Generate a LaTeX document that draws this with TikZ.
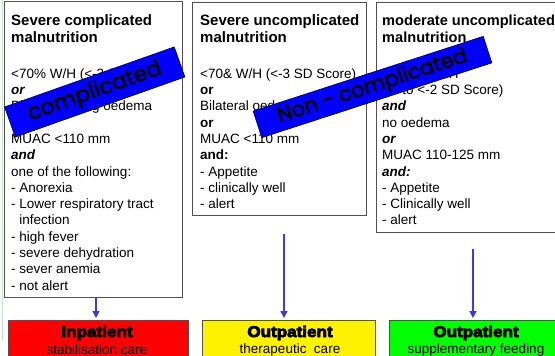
\documentclass[tikz,border=0pt]{standalone}
\usepackage{fontspec}
\setmainfont{Liberation Sans}
\newfontfamily\bannerfont{Poppins}[FakeBold=2]
\newfontfamily\heavyfont{Liberation Sans}[BoldFeatures={FakeBold=5,FakeStretch=1.1}]
\usetikzlibrary{arrows.meta}
\definecolor{boxgray}{HTML}{505050}
\definecolor{arrowblue}{HTML}{3C3CD8}
\definecolor{edgegreen}{HTML}{C6E8C6}
\definecolor{bannerblue}{HTML}{0000FF}
\tikzset{
  infobox/.style={draw=boxgray, line width=1.2pt, fill=white, anchor=north west, inner sep=0pt},
  titletext/.style={anchor=north west, inner sep=0pt, align=left, font=\fontsize{15}{17}\selectfont\bfseries},
  bodytext/.style={anchor=north west, inner sep=0pt, align=left, font=\fontsize{13.5}{16.3}\selectfont},
  carebox/.style={draw=boxgray, line width=0.8pt, anchor=north west, inner sep=0pt, minimum height=45pt},
  caretitle/.style={inner sep=0pt, font=\heavyfont\bfseries\fontsize{15.5}{15.5}\selectfont},
  caresub/.style={inner sep=0pt, font=\fontsize{13.5}{13.5}\selectfont},
  banner/.style={draw=black, line width=0.5pt, fill=bannerblue, inner sep=0pt, text=black},
  arrowline/.style={draw=arrowblue, line width=1.6pt, -{Triangle[width=7pt,length=7pt]}, shorten >=2pt},
}
\begin{document}
\begin{tikzpicture}[x=1pt,y=-1pt]
\useasboundingbox (0,0) rectangle (555,356);
\fill[white] (0,0) rectangle (555,356);
\draw[edgegreen, line width=1pt] (2.5,0) -- (2.5,340);

% information boxes
\node[infobox, minimum width=178pt, minimum height=296pt] (box1) at (4,1) {};
\node[infobox, minimum width=174pt, minimum height=213pt] (box2) at (192,2) {};
\node[infobox, minimum width=186pt, minimum height=230pt] (box3) at (376,2) {};

% titles: first baseline at y=25 (strut height 0.7*17 = 11.9)
\node[titletext] (t1) at (11,13.1) {\strut Severe complicated\\malnutrition};
\node[titletext] (t2) at (200,13.1) {\strut Severe uncomplicated\\malnutrition};
\node[titletext, font=\fontsize{14.6}{17}\selectfont\bfseries] (t3) at (382,13.1) {\strut moderate uncomplicated\\malnutrition};

% bodies: first baseline at y=78 (strut height 0.7*16.3 = 11.41)
\node[bodytext] (b1) at (11,66.6) {\strut <70\% W/H (<-3 SD Score)\\
\textbf{\textit{or}}\\
Bilateral pitting oedema\\
\textbf{\textit{or}}\\
MUAC <110 mm\\
\textbf{\textit{and}}\\
one of the following:\\
- Anorexia\\
- Lower respiratory tract\\
\phantom{- }infection\\
- high fever\\
- severe dehydration\\
- sever anemia\\
- not alert};

\node[bodytext] (b2) at (200,66.6) {\strut <70\& W/H (<-3 SD Score)\\
\textbf{or}\\
Bilateral oedema\\
\textbf{or}\\
MUAC <110 mm\\
\textbf{and:}\\
- Appetite\\
- clinically well\\
- alert};

\node[bodytext] (b3) at (382,66.6) {\strut 70-80\% W/H\\
(-3 to <-2 SD Score)\\
\textbf{\textit{and}}\\
no oedema\\
\textbf{\textit{or}}\\
MUAC 110-125 mm\\
\textbf{\textit{and:}}\\
- Appetite\\
- Clinically well\\
- alert};

% care boxes
\node[carebox, fill=red, minimum width=180pt] (r1) at (8,320) {};
\node[carebox, fill=yellow, minimum width=173pt] (r2) at (202,320) {};
\node[carebox, fill=green, minimum width=174pt] (r3) at (389,320) {};

\node[caretitle] (r1a) at (97,333) {Inpatient};
\node[caresub] (r1b) at (97,350) {stabilisation care};
\node[caretitle] (r2a) at (290,333) {Outpatient};
\node[caresub] (r2b) at (290,350) {therapeutic~ care};
\node[caretitle] (r3a) at (476,333) {Outpatient};
\node[caresub] (r3b) at (476,350) {supplementary feeding};

% arrows
\coordinate (s1) at (96,297);
\coordinate (s2) at (284,234);
\coordinate (s3) at (473,249);
\draw[arrowline] (s1) -- (s1 |- r1.north);
\draw[arrowline] (s2) -- (s2 |- r2.north);
\draw[arrowline] (s3) -- (s3 |- r3.north);

% banners
\node[banner, rotate=19.5, minimum width=180pt, minimum height=32pt,
      font=\bannerfont\fontsize{22}{22}\selectfont] (ban1) at (94.75,92) {complicated};
\node[banner, rotate=18, minimum width=242pt, minimum height=28pt,
      font=\bannerfont\fontsize{21}{21}\selectfont] (ban2) at (372.5,87) {Non - complicated};
\end{tikzpicture}
\end{document}
